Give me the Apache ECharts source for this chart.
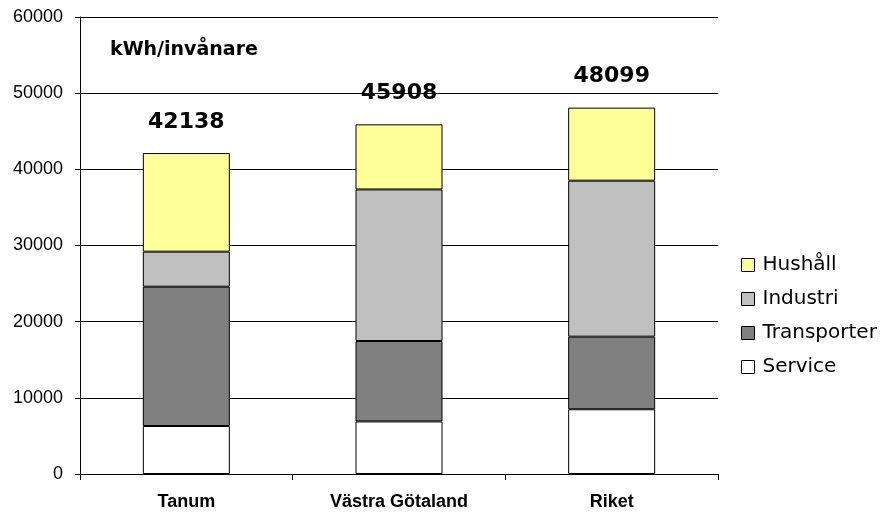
<!DOCTYPE html>
<html>
<head>
<meta charset="utf-8">
<script src="https://cdn.jsdelivr.net/npm/echarts@6/dist/echarts.min.js"></script>
<style>
  html, body { margin: 0; padding: 0; background: #fff; }
  #chart { width: 880px; height: 512px; }
</style>
</head>
<body>
<div id="chart"></div>
<script>
// Energy use per inhabitant (kWh), split by sector
const categories = ['Tanum', 'Västra Götaland', 'Riket'];
const service = [6300, 6900, 8500];
const transporter = [18290, 10560, 9530];
const industri = [4600, 19900, 20480];
const hushall = [12948, 8548, 9589];
const yTicks = [0, 10000, 20000, 30000, 40000, 50000, 60000];

const totals = categories.map((_, i) => service[i] + transporter[i] + industri[i] + hushall[i]);

const chart = echarts.init(document.getElementById('chart'));

const barStyle = (color) => ({ color: color, borderColor: '#000', borderWidth: 1 });

chart.setOption({
  animation: false,
  backgroundColor: '#fff',
  grid: { left: 80, right: 162, top: 17, bottom: 38 },
  legend: {
    orient: 'vertical',
    left: 736,
    top: 250,
    data: ['Hushåll', 'Industri', 'Transporter', 'Service'],
    itemWidth: 13,
    itemHeight: 13,
    itemGap: 14,
    icon: 'rect',
    itemStyle: { borderColor: '#000', borderWidth: 1 },
    textStyle: { fontFamily: 'DejaVu Sans', fontSize: 20, color: '#000', lineHeight: 13, padding: [0, 0, 0, 3] }
  },
  xAxis: {
    type: 'category',
    data: categories,
    axisLine: { lineStyle: { color: '#000', width: 1 } },
    axisTick: { show: true, length: 6, lineStyle: { color: '#000' } },
    axisLabel: { fontFamily: 'Liberation Sans', fontWeight: 'bold', fontSize: 18, color: '#000', margin: 19 }
  },
  yAxis: {
    type: 'value',
    min: 0,
    max: yTicks[yTicks.length - 1],
    interval: yTicks[1] - yTicks[0],
    axisLine: { show: true, lineStyle: { color: '#000', width: 1 } },
    axisTick: { show: true, length: 5, lineStyle: { color: '#000' } },
    axisLabel: { fontFamily: 'Liberation Sans', fontSize: 18, color: '#000', margin: 17, formatter: (v) => String(v) },
    splitLine: { show: true, lineStyle: { color: '#000', width: 1 } }
  },
  graphic: [{
    type: 'text',
    left: 110,
    top: 41,
    style: { text: 'kWh/invånare', fontFamily: 'DejaVu Sans', fontWeight: 'bold', fontSize: 19, fill: '#000' }
  }],
  series: [
    { name: 'Service', type: 'bar', stack: 'total', barWidth: 87, data: service, itemStyle: barStyle('#FFFFFF') },
    { name: 'Transporter', type: 'bar', stack: 'total', data: transporter, itemStyle: barStyle('#808080') },
    { name: 'Industri', type: 'bar', stack: 'total', data: industri, itemStyle: barStyle('#C0C0C0') },
    {
      name: 'Hushåll', type: 'bar', stack: 'total', data: hushall, itemStyle: barStyle('#FFFF99'),
      label: {
        show: true,
        position: 'top',
        distance: 20,
        formatter: (p) => String(totals[p.dataIndex]),
        fontFamily: 'DejaVu Sans',
        fontWeight: 'bold',
        fontSize: 22,
        color: '#000'
      }
    }
  ]
});
</script>
</body>
</html>
